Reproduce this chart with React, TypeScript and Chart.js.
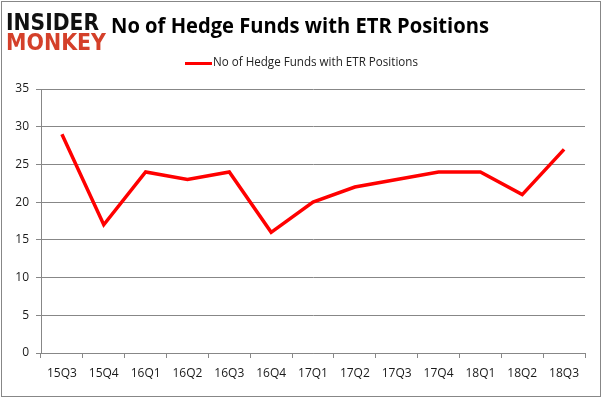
import React, { useEffect, useRef } from "react";
import { Chart, registerables } from "chart.js";

Chart.register(...registerables);

const categories = ["15Q3", "15Q4", "16Q1", "16Q2", "16Q3", "16Q4", "17Q1", "17Q2", "17Q3", "17Q4", "18Q1", "18Q2", "18Q3"];
const hedgeFunds = [29, 17, 24, 23, 24, 16, 20, 22, 23, 24, 24, 21, 27];
const seriesName = "No of Hedge Funds with ETR Positions";
const titleText = "No of Hedge Funds with ETR Positions";
const yTicks = [0, 5, 10, 15, 20, 25, 30, 35];

const W = 602;
const H = 398;

const decorPlugin = {
  id: "decor",
  afterDraw(chart: any) {
    const ctx = chart.ctx as CanvasRenderingContext2D;
    ctx.save();
    // outer border
    ctx.strokeStyle = "#878787";
    ctx.lineWidth = 1;
    ctx.strokeRect(1.5, 1.5, W - 3, H - 3);
    // logo
    ctx.textBaseline = "alphabetic";
    ctx.textAlign = "left";
    ctx.fillStyle = "#111111";
    ctx.font = "900 23px 'DejaVu Sans'";
    ctx.fillText("INSIDER", 6, 30, 93);
    ctx.fillStyle = "#d4402a";
    ctx.fillText("MONKEY", 6, 50, 100);
    // title
    ctx.fillStyle = "#000000";
    ctx.font = "bold 21px 'Open Sans'";
    ctx.textAlign = "center";
    ctx.textBaseline = "middle";
    ctx.fillText(titleText, 300, 27, 378);
    // legend
    ctx.strokeStyle = "#ff0000";
    ctx.lineWidth = 3;
    ctx.beginPath();
    ctx.moveTo(185, 63.5);
    ctx.lineTo(212, 63.5);
    ctx.stroke();
    ctx.fillStyle = "#222222";
    ctx.font = "12px 'Open Sans'";
    ctx.textAlign = "left";
    ctx.fillText(seriesName, 213, 63, 205);
    ctx.restore();
  },
};

export default function App() {
  const ref = useRef<HTMLCanvasElement>(null);
  useEffect(() => {
    if (!ref.current) return;
    const chart = new Chart(ref.current, {
      type: "line",
      data: {
        labels: categories,
        datasets: [
          {
            label: seriesName,
            data: hedgeFunds,
            borderColor: "#ff0000",
            backgroundColor: "#ff0000",
            borderWidth: 3.5,
            pointRadius: 0,
            tension: 0,
          },
        ],
      },
      options: {
        animation: false,
        responsive: false,
        devicePixelRatio: 1,
        layout: { padding: { left: 0, top: 89, right: 17, bottom: 0 } },
        plugins: { legend: { display: false }, title: { display: false }, tooltip: { enabled: false } },
        scales: {
          x: {
            offset: true,
            grid: { display: true, drawOnChartArea: false, drawTicks: true, tickLength: 5, color: "#878787", offset: true },
            border: { display: true, color: "#878787", width: 1 },
            ticks: { color: "#1a1a1a", font: { family: "'Open Sans'", size: 12 }, padding: 8, maxRotation: 0, autoSkip: false },
            afterFit(scale: any) {
              scale.height = H - 353;
            },
          },
          y: {
            min: 0,
            max: 35,
            afterBuildTicks(scale: any) {
              scale.ticks = yTicks.map((v) => ({ value: v }));
            },
            grid: { color: "#878787", tickLength: 5, drawTicks: true },
            border: { display: true, color: "#878787", width: 1 },
            ticks: { color: "#1a1a1a", font: { family: "'Open Sans'", size: 12 }, padding: 7 },
            afterFit(scale: any) {
              scale.width = 41;
            },
          },
        },
      },
      plugins: [decorPlugin],
    });
    return () => chart.destroy();
  }, []);
  return (
    <div style={{ position: "fixed", left: 0, top: 0, width: W, height: H, background: "#ffffff" }}>
      <canvas ref={ref} width={W} height={H} style={{ width: W, height: H, display: "block" }} />
    </div>
  );
}
